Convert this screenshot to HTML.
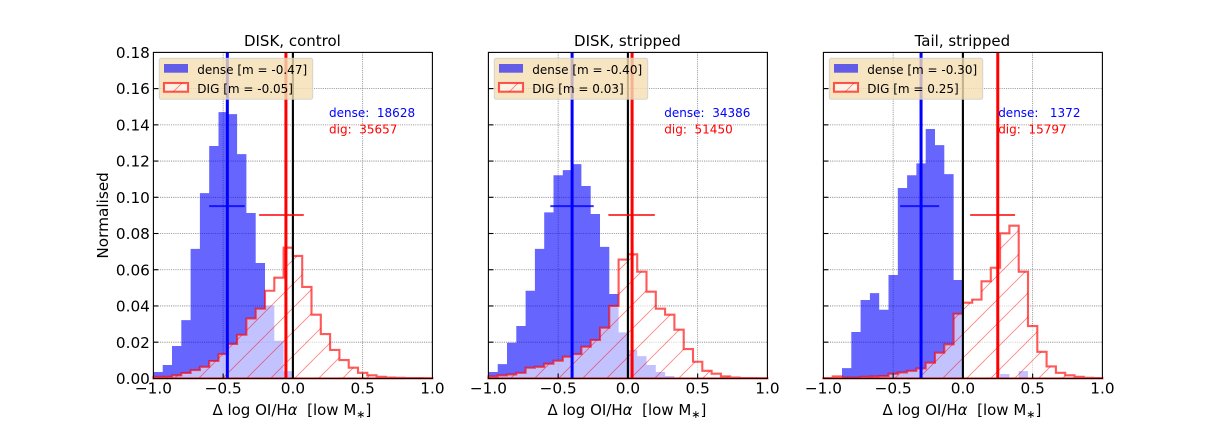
<!DOCTYPE html>
<html>
<head>
<meta charset="utf-8">
<title>Delta log OI/Halpha histograms</title>
<style>
html,body{margin:0;padding:0;background:#fff;width:1224px;height:432px;overflow:hidden}
svg{display:block}
text{font-family:"DejaVu Sans","Liberation Sans",sans-serif;fill:#000;white-space:pre}
</style>
</head>
<body>
<svg id="fig" width="1224" height="432" viewBox="0 0 1224 432" xmlns="http://www.w3.org/2000/svg">
<defs>
<pattern id="hatch" patternUnits="userSpaceOnUse" width="24" height="24">
<path d="M-1 26L26 -1M-1 2L2 -1" stroke="#ff0000" stroke-opacity="0.5" stroke-width="0.8" fill="none"/>
</pattern>
</defs>
<rect width="1224" height="432" fill="#fff"/>
</svg>
<script>
const panelTitles = ["DISK, control", "DISK, stripped", "Tail, stripped"];
const denseControl = [.0035,.0074,.0179,.0322,.0715,.1023,.1283,.147,.1459,.1238,.0913,.0637,.0403,.0208,.004,.0004,0,0,0,0,0,0,0,0,0,0,0,0,0,0];
const digControl = [.0009,.0009,.0017,.003,.0046,.0064,.0096,.0134,.019,.0241,.0331,.0385,.0484,.0556,.0722,.0676,.0505,.0352,.0245,.0157,.0101,.0059,.0031,.0017,.0009,.0005,.0003,.0002,.0002,.0001];
const denseStripped = [.0035,.0079,.0197,.0289,.0484,.0715,.0917,.1122,.115,.1183,.1062,.0908,.0726,.0466,.0254,.0157,.0123,.0074,.0035,.0013,.0003,0,0,0,0,0,0,0,0,0];
const digStripped = [.0011,.0017,.0022,.0031,.0059,.0064,.0081,.0098,.012,.0134,.0175,.0212,.028,.04,.0656,.0685,.0589,.0479,.0385,.0352,.0269,.0162,.0092,.0042,.0026,.0011,.0005,.0002,.0002,.0001];
const denseTail = [0,0,.0057,.0256,.0433,.0471,.0379,.0571,.1051,.1122,.1187,.1377,.1288,.1128,.0543,0,0,0,0,.0024,0,.004,0,0,0,0,0,0,0,0];
const digTail = [.0002,.0011,.0005,.0005,.0009,.0011,.0013,.0026,.0033,.0042,.0055,.0087,.0142,.0188,.0357,.0418,.0435,.0536,.0611,.0801,.0843,.0589,.0289,.0147,.0066,.0031,.0017,.0009,.0003,.0002];
const denseMeans = [-0.47, -0.40, -0.30];
const digMeans = [-0.05, 0.03, 0.25];
const denseErrLow = [-0.60, -0.556, -0.45];
const denseErrHigh = [-0.345, -0.245, -0.17];
const digErrLow = [-0.242, -0.14, 0.052];
const digErrHigh = [0.078, 0.193, 0.374];
const denseErrLevel = [0.0951, 0.0951, 0.0951];
const digErrLevel = [0.0902, 0.0902, 0.0902];
const denseCounts = ["18628", "34386", " 1372"];
const digCounts = ["35657", "51450", "15797"];
const legendDense = ["dense [m = -0.47]", "dense [m = -0.40]", "dense [m = -0.30]"];
const legendDig = ["DIG [m = -0.05]", "DIG [m = 0.03]", "DIG [m = 0.25]"];
const xTickValues = [-1, -0.5, 0, 0.5, 1];
const xTickLabels = ["\u22121.0", "\u22120.5", "0.0", "0.5", "1.0"];
const yTickValues = [0, .02, .04, .06, .08, .10, .12, .14, .16, .18];
const yTickLabels = ["0.00", "0.02", "0.04", "0.06", "0.08", "0.10", "0.12", "0.14", "0.16", "0.18"];

const denseSeries = [denseControl, denseStripped, denseTail];
const digSeries = [digControl, digStripped, digTail];
const NS = "http://www.w3.org/2000/svg";
const fig = document.getElementById("fig");
const AX_W = 279, AX_TOP = 52.4, AX_BOTTOM = 378.4;
const axisLefts = [153.4, 488.4, 823.4];

function make(parent, tag, attrs, txt) {
  const el = document.createElementNS(NS, tag);
  for (const k in attrs) el.setAttribute(k, attrs[k]);
  if (txt !== undefined) el.textContent = txt;
  parent.appendChild(el);
  return el;
}
function yScale(v) { return AX_BOTTOM - v / 0.18 * (AX_BOTTOM - AX_TOP); }
function xScaleFor(left) { return v => left + (v + 1) / 2 * AX_W; }
function stepPath(values, x) {
  const n = values.length;
  const edge = i => -1 + 2 * i / n;
  let d = "M" + x(-1).toFixed(2) + " " + yScale(0).toFixed(2);
  values.forEach((v, i) => {
    d += "L" + x(edge(i)).toFixed(2) + " " + yScale(v).toFixed(2);
    d += "L" + x(edge(i + 1)).toFixed(2) + " " + yScale(v).toFixed(2);
  });
  d += "L" + x(1).toFixed(2) + " " + yScale(0).toFixed(2) + "Z";
  return d;
}

panelTitles.forEach((title, p) => {
  const left = axisLefts[p];
  const x = xScaleFor(left);
  const g = make(fig, "g", {});
  
  

  const axesBg = make(g, "rect", {x: left, y: AX_TOP, width: AX_W, height: AX_BOTTOM - AX_TOP, fill: "#fff"});
  
  

  xTickValues.forEach(v => {
    if (v === -1 || v === 1) return;
    const gl = make(g, "line", {x1: x(v), x2: x(v), y1: AX_TOP, y2: AX_BOTTOM, stroke: "#808080", "stroke-width": 0.8, "stroke-dasharray": "1.1 1.1"});
    
    
  });
  yTickValues.forEach(v => {
    if (v === 0 || v === 0.18) return;
    const gl = make(g, "line", {x1: left, x2: left + AX_W, y1: yScale(v), y2: yScale(v), stroke: "#808080", "stroke-width": 0.8, "stroke-dasharray": "1.1 1.1"});
    
    
  });

  const dense = make(g, "path", {d: stepPath(denseSeries[p], x), fill: "#0000ff", "fill-opacity": 0.6});
  
  

  const digFill = make(g, "path", {d: stepPath(digSeries[p], x), fill: "#fff", "fill-opacity": 0.6});
  
  
  const digHatch = make(g, "path", {d: stepPath(digSeries[p], x), fill: "url(#hatch)"});
  
  
  const digEdge = make(g, "path", {d: stepPath(digSeries[p], x), fill: "none", stroke: "#ff0000", "stroke-opacity": 0.65, "stroke-width": 2.1, "stroke-linejoin": "miter"});
  
  

  const zero = make(g, "line", {x1: x(0), x2: x(0), y1: AX_TOP, y2: AX_BOTTOM, stroke: "#000", "stroke-width": 2.1});
  
  
  const mDense = make(g, "line", {x1: x(denseMeans[p]), x2: x(denseMeans[p]), y1: AX_TOP, y2: AX_BOTTOM, stroke: "#0000ff", "stroke-width": 3});
  
  
  const mDig = make(g, "line", {x1: x(digMeans[p]), x2: x(digMeans[p]), y1: AX_TOP, y2: AX_BOTTOM, stroke: "#ff0000", "stroke-width": 3});
  
  

  const eDense = make(g, "line", {x1: x(denseErrLow[p]), x2: x(denseErrHigh[p]), y1: yScale(denseErrLevel[p]), y2: yScale(denseErrLevel[p]), stroke: "#0000ff", "stroke-opacity": 0.8, "stroke-width": 2});
  
  
  const eDig = make(g, "line", {x1: x(digErrLow[p]), x2: x(digErrHigh[p]), y1: yScale(digErrLevel[p]), y2: yScale(digErrLevel[p]), stroke: "#ff0000", "stroke-opacity": 0.75, "stroke-width": 2});
  
  

  const tx = [329, 664.3, 998.2][p];
  const t1 = make(g, "text", {x: tx, y: 117, "font-size": 12, style: "fill:#0000ff"}, "dense:  " + denseCounts[p]);
  
  
  const t2 = make(g, "text", {x: tx, y: 133.5, "font-size": 12, style: "fill:#ff0000"}, "dig:  " + digCounts[p]);
  
  

  const lg = make(g, "g", {});
  
  
  const lx = left + 5.9;
  const box = make(lg, "rect", {x: lx, y: 58.3, width: 153.4, height: 41, rx: 2, fill: "#f5deb3", "fill-opacity": 0.8, stroke: "#cccccc", "stroke-opacity": 0.8, "stroke-width": 1});
  
  
  const h1 = make(lg, "rect", {x: lx + 4.7, y: 64, width: 24, height: 8.7, fill: "#0000ff", "fill-opacity": 0.6});
  
  
  const h2a = make(lg, "rect", {x: lx + 4.7, y: 83, width: 24, height: 8.7, fill: "#fff", "fill-opacity": 0.6});
  
  
  const h2b = make(lg, "rect", {x: lx + 4.7, y: 83, width: 24, height: 8.7, fill: "url(#hatch)", stroke: "#ff0000", "stroke-opacity": 0.65, "stroke-width": 2.1});
  
  
  const l1 = make(lg, "text", {x: lx + 38, y: 74, "font-size": 12}, legendDense[p]);
  
  
  const l2 = make(lg, "text", {x: lx + 38, y: 93, "font-size": 12}, legendDig[p]);
  
  

  xTickValues.forEach((v, i) => {
    if (i > 0 && i < xTickValues.length - 1) {
      const tk = make(g, "line", {x1: x(v), x2: x(v), y1: AX_BOTTOM, y2: AX_BOTTOM - 4.9, stroke: "#000", "stroke-width": 1.1});
      
      
    }
    const lb = make(g, "text", {x: x(v), y: 393.5, "font-size": 15.28, "text-anchor": "middle"}, xTickLabels[i]);
    
    
  });
  yTickValues.forEach((v, i) => {
    if (i > 0 && i < yTickValues.length - 1) {
      const tk = make(g, "line", {x1: left, x2: left + 4.9, y1: yScale(v), y2: yScale(v), stroke: "#000", "stroke-width": 1.1});
      
      
    }
    if (p === 0) {
      const lb = make(g, "text", {x: left - 3.5, y: yScale(v) + 5.6, "font-size": 15.28, "text-anchor": "end"}, yTickLabels[i]);
      
      
    }
  });

  const frame = make(g, "rect", {x: left, y: AX_TOP, width: AX_W, height: AX_BOTTOM - AX_TOP, fill: "none", stroke: "#000", "stroke-width": 1.1});
  
  

  const ttl = make(g, "text", {x: left + AX_W / 2 - 0.5, y: 46, "font-size": 15, "text-anchor": "middle"}, title);
  
  

  const xl = make(g, "text", {x: left + AX_W / 2 - 1, y: 415, "font-size": 15, "text-anchor": "middle"});
  
  
  make(xl, "tspan", {}, "\u0394 log OI/H");
  make(xl, "tspan", {"font-style": "italic"}, "\u03b1");
  make(xl, "tspan", {}, "  [low M");
  make(xl, "tspan", {dy: 3, "font-size": 11}, "\u2217");
  make(xl, "tspan", {dy: -3}, "]");
});

const yl = make(fig, "text", {transform: "translate(108,215.4) rotate(-90)", "font-size": 15.28, "text-anchor": "middle"}, "Normalised");


</script>
</body>
</html>
